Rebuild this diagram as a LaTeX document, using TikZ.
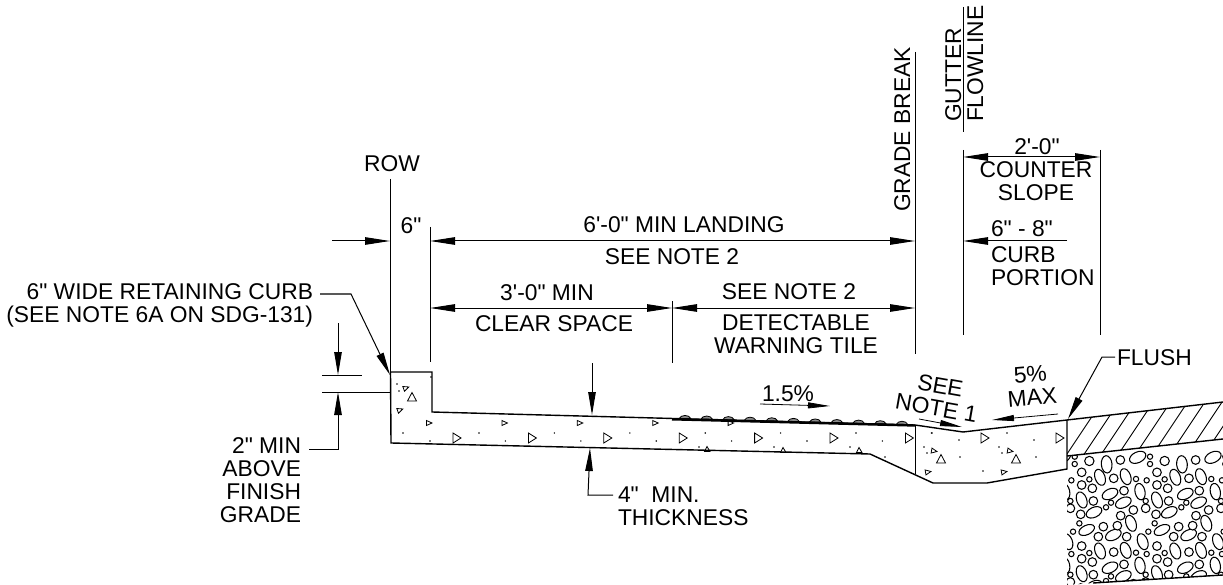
\documentclass[tikz,border=0pt]{standalone}
\usepackage{fontspec}
\usetikzlibrary{arrows.meta}
\newfontfamily\lblfont{Liberation Sans}
\tikzset{
  lbl/.style={font=\lblfont\fontsize{22.8}{23}\selectfont,inner sep=0pt,outer sep=0pt,text=black},
  lline/.style={line width=1pt,black},
  outline/.style={line width=1.4pt,black,line join=miter},
  dimboth/.style={lline,{Triangle[length=25pt,width=7.5pt]}-{Triangle[length=25pt,width=7.5pt]}},
  dimone/.style={lline,-{Triangle[length=25pt,width=7.5pt]}},
  leadarrow/.style={lline,-{Triangle[length=23pt,width=7.5pt]}},
  slopearrow/.style={line width=0.8pt,-{Triangle[length=22pt,width=6pt]}},
  tribig/.style={line width=0.8pt,draw=black,fill=white},
  stone/.style={line width=1.05pt,draw=black,fill=white}
}
\begin{document}
\begin{tikzpicture}[x=1pt,y=-1pt]
\useasboundingbox (0,0) rectangle (1223,585);
% --- named points of the reference lines
\coordinate (rowtop) at (390,179); \coordinate (rowbot) at (390,372);
\coordinate (lanL) at (430,227); \coordinate (lanLb) at (430,362);
\coordinate (gbT) at (915,52); \coordinate (gbB) at (915,354);
\coordinate (gfT) at (963,7); \coordinate (gfM) at (963,132);
\coordinate (csT) at (963,150); \coordinate (csB) at (963,335);
\coordinate (crT) at (1100,150); \coordinate (crB) at (1100,335);
\coordinate (tickT) at (672,301); \coordinate (tickB) at (672,363);
\draw[lline] (rowtop) -- (rowbot);
\draw[lline] (lanL) -- (lanLb);
\draw[lline] (gbT) -- (gbB);
\draw[lline] (gfT) -- (gfM);
\draw[lline] (csT) -- (csB);
\draw[lline] (crT) -- (crB);
\draw[lline] (tickT) -- (tickB);
% dimensions
\coordinate (a6s) at (332,241); \coordinate (a6e) at (390,241);
\draw[dimone] (a6s) -- (a6e);
\coordinate (l1) at (430,241); \coordinate (l2) at (915,241);
\draw[dimboth] (l1) -- (l2);
\coordinate (c1) at (430,308); \coordinate (c2) at (672,308); \coordinate (c3) at (915,308);
\draw[dimboth] (c1) -- (c2);
\draw[dimboth] (c2) -- (c3);
\coordinate (t1) at (963,157); \coordinate (t2) at (1100,157);
\draw[dimboth] (t1) -- (t2);
\coordinate (p1) at (1067,241); \coordinate (p2) at (963,241);
\draw[dimone] (p1) -- (p2);
% 2 in. min
\coordinate (m1) at (322,375); \coordinate (m2) at (362,375);
\coordinate (m3) at (322,392); \coordinate (m4) at (390,392);
\draw[lline] (m1) -- (m2);
\draw[lline] (m3) -- (m4);
\coordinate (ma) at (338,323); \coordinate (mb) at (338,375);
\draw[leadarrow] (ma) -- (mb);
\coordinate (mc) at (338,392); \coordinate (md) at (338,449); \coordinate (me) at (309,449);
\draw[leadarrow] (me) -- (md) -- (mc);
% retaining curb leader
\coordinate (r1) at (320,294); \coordinate (r2) at (351,294); \coordinate (r3) at (390,375);
\draw[leadarrow] (r1) -- (r2) -- (r3);
% thickness
\coordinate (th1) at (592,363); \coordinate (th2) at (592,415);
\draw[leadarrow] (th1) -- (th2);
\coordinate (th3) at (613,495); \coordinate (th4) at (588,495); \coordinate (th5) at (590,448);
\draw[leadarrow] (th3) -- (th4) -- (th5);
% slope arrows
\coordinate (s1) at (760,404); \coordinate (s2) at (830,406);
\draw[slopearrow] (s1) -- (s2);
\coordinate (s3) at (919,419); \coordinate (s4) at (962,427);
\draw[slopearrow] (s3) -- (s4);
\coordinate (s5) at (1058,414); \coordinate (s6) at (992,420);
\draw[slopearrow] (s5) -- (s6);
% flush leader
\coordinate (f1) at (1115,357); \coordinate (f2) at (1102,357); \coordinate (f3) at (1068,419);
\draw[leadarrow] (f1) -- (f2) -- (f3);
% --- aggregate base
\begin{scope}
\clip (1067,456) -- (1223,439) -- (1223,575) -- (1093,583) -- (1067,585) -- cycle;
\foreach \i in {-1,0,1,2} {
 \begin{scope}[shift={(\i*75.3,0)}]
  \foreach \cx/\cy/\a/\b/\r in {140/208/16/26/5,233/187/26/16/25}
   \draw[stone] ({1060+\cx/3},{395+\cy/3}) circle[x radius=\a/3*1pt,y radius=\b/3*1pt,rotate=\r];
  \foreach \cx/\cy/\a in {88/198/14,181/195/13,270/185/8,270/207/8}
   \draw[stone] ({1060+\cx/3},{395+\cy/3}) circle[radius=\a/3*1pt];
 \end{scope}
 \foreach \j in {0,1} {
 \begin{scope}[shift={(\i*75.3,\j*73.7)}]
  \foreach \cx/\cy/\a/\b/\r in {120/247/15/25/20,197/245/15/25/20,240/290/15/25/12,150/297/25/15/25,65/315/15/25/20,190/323/25/15/25,102/352/25/15/25,213/385/15/25/20,80/405/25/14/25,160/420/25/15/25,248/440/15/25/20}
   \draw[stone] ({1060+\cx/3},{395+\cy/3}) circle[x radius=\a/3*1pt,y radius=\b/3*1pt,rotate=\r];
  \foreach \cx/\cy/\a in {65/232/13,88/253/8,161/250/13,228/252/8,260/256/8,65/270/13,97/280/13,192/287/13,100/318/13,257/318/8,153/323/8,138/337/8,257/340/13,220/345/13,62/358/13,182/362/13,58/385/8,130/395/13,172/392/13,115/425/13,200/425/13,265/410/8}
   \draw[stone] ({1060+\cx/3},{395+\cy/3}) circle[radius=\a/3*1pt];
 \end{scope}
 }
}
\end{scope}
% hatch band
\begin{scope}
\clip (1067,420) -- (1223,402) -- (1223,439) -- (1067,456) -- cycle;
\foreach \k in {0,...,10}
  \draw[line width=0.9pt] ({1063+\k*17.2},460) -- ({1063+\k*17.2+40},400);
\end{scope}
\draw[outline] (1067,420) -- (1223,402);
\draw[outline] (1067,456) -- (1223,439);
\draw[outline] (1093,583) -- (1223,575);
% --- detectable warning tile bumps
\foreach \k in {0,...,10} {
  \pgfmathsetmacro\bx{685+21.7*\k}
  \pgfmathsetmacro\by{412+(\bx-432)*13/483}
  \draw[line width=0.8pt,fill=black!45] ({\bx-6},\by) .. controls ({\bx-4},{\by-4.5}) and ({\bx+4},{\by-4.5}) .. ({\bx+6},\by) -- cycle;
}
\draw[line width=2.4pt] (672,419.3) -- (915,425.5);
% --- concrete
\draw[outline] (390.5,372) -- (432,372) -- (432,412) -- (915,425) -- (963,432) -- (1067,420) -- (1067,469) -- (987,483) -- (933,483) -- (870,454) -- (391,443) -- cycle;
\draw[lline] (915,425) -- (915,474);
\foreach \k in {0,...,6} {
  \draw[tribig,shift={({456+\k*75.4},438)}] (-3,-5) -- (5,0) -- (-3,5) -- cycle;
  \fill ({430+\k*75.4},441) circle[radius=0.8pt];
  \fill ({479+\k*75.4},433) circle[radius=0.8pt];
}
\foreach \k in {0,...,4}
  \draw[line width=0.8pt,shift={({429+\k*75.4},423)}] (-2.5,-2.5) -- (3,0) -- (-2.5,2.5) -- cycle;
\foreach \x/\y in {707/449,783/450,859/450}
  \draw[line width=0.8pt,shift={(\x,\y)}] (-2.5,2.5) -- (0,-2.5) -- (3,2.5) -- cycle;
\foreach \x/\y in {699/447,774/447,850/447,885/457}
  \fill (\x,\y) circle[radius=0.8pt];
% curb stones
\foreach \x/\y/\r in {406/388/20,400/410/20,934/451/-10,928/472/10,1010/451/-10,1004/472/10}
  \draw[line width=0.8pt,shift={(\x,\y)},rotate=\r] (-2.5,-2.5) -- (3,0) -- (-2.5,2.5) -- cycle;
\foreach \x/\y in {412/397,941/459,1016/459}
  \draw[tribig,shift={(\x,\y)}] (-4.5,4) -- (0,-4.5) -- (4.5,4) -- cycle;
\foreach \x/\y in {984/438,1059/438}
  \draw[tribig,shift={(\x,\y)}] (-3,-5) -- (5,0) -- (-3,5) -- cycle;
\foreach \x/\y in {397/384,399/391,403/433,431/377,932/433,959/440,1007/433,1034/440,924/447,927/453,999/447,1002/453,960/457,1036/457,983/471}
  \fill (\x,\y) circle[radius=0.8pt];
% --- texts
\node[lbl,anchor=base] (trow) at (392,172) {ROW};
\node[lbl,anchor=base] (t6) at (411,234) {6"};
\node[lbl,anchor=base] (tland) at (684,233) {6'-0" MIN LANDING};
\node[lbl,anchor=base] (tsn1) at (672,265) {SEE NOTE 2};
\node[lbl,anchor=base] (t30) at (547,300) {3'-0" MIN};
\node[lbl,anchor=base] (tclear) at (554,331) {CLEAR SPACE};
\node[lbl,anchor=base] (tsn2) at (789,299) {SEE NOTE 2};
\node[lbl,anchor=base,align=center] (tdet) at (796,353) {DETECTABLE\\WARNING TILE};
\node[lbl,anchor=base west,rotate=90] (tgb) at (910,212) {GRADE BREAK};
\node[lbl,anchor=base west,rotate=90] (tgut) at (961,122) {GUTTER};
\node[lbl,anchor=base west,rotate=90] (tflow) at (983,122) {FLOWLINE};
\node[lbl,anchor=base] (t20) at (1037,155) {2'-0"};
\node[lbl,anchor=base,align=center] (tcs) at (1036,201) {COUNTER\\SLOPE};
\node[lbl,anchor=base west] (t68) at (991,237) {6" - 8"};
\node[lbl,anchor=base west,align=left] (tcp) at (991,286) {CURB\\PORTION};
\node[lbl,anchor=base east,align=right] (trc) at (313,322) {6" WIDE RETAINING CURB\\(SEE NOTE 6A ON SDG-131)};
\node[lbl,anchor=base east,align=right] (t2m) at (301,522) {2" MIN\\ABOVE\\FINISH\\GRADE};
\node[lbl,anchor=base west,align=left] (t4m) at (618,525) {4"\ \ MIN.\\THICKNESS};
\node[lbl,anchor=base] (t15) at (788,401) {1.5\%};
\node[lbl,anchor=base,rotate=5,align=center] (t5m) at (1033,405) {5\%\\MAX};
\node[lbl,anchor=base,rotate=-10,align=center] (tn1) at (935,416) {SEE\\NOTE 1};
\node[lbl,anchor=base west] (tfl) at (1117,365) {FLUSH};
\end{tikzpicture}
\end{document}
